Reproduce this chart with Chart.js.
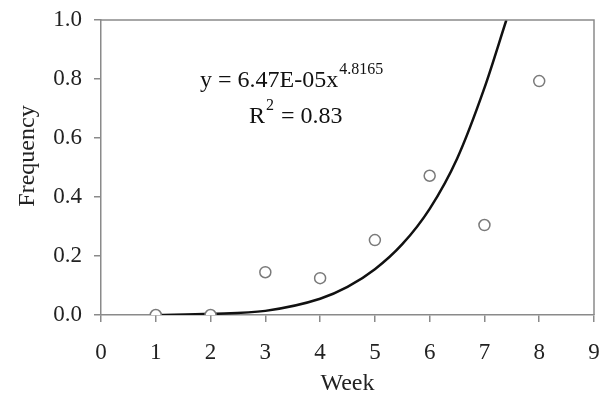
<!DOCTYPE html>
<html lang="en">
<head>
  <meta charset="UTF-8">
  <title>Frequency by week</title>
  <script src="https://cdn.jsdelivr.net/npm/chart.js"></script>
  <style>
    html, body { margin: 0; padding: 0; background: #fff; }
    #wrap { width: 604px; height: 406px; }
  </style>
</head>
<body>
  <div id="wrap"><canvas id="myChart" width="604" height="406"></canvas></div>
  <script>
    // observed frequency per week
    const weeks = [1, 2, 3, 4, 5, 6, 7, 8];
    const frequency = [0.0, 0.0, 0.145, 0.125, 0.254, 0.472, 0.305, 0.793];

    // power trend line
    const trendWeeks = [1, 2, 3, 4, 4.5, 5, 5.5, 6, 6.5, 7, 7.4];
    const trendFreq = [0.0, 0.004, 0.014, 0.055, 0.095, 0.155, 0.24, 0.36, 0.53, 0.77, 1.0];

    const xTicks = [0, 1, 2, 3, 4, 5, 6, 7, 8, 9];
    const yTicks = [0.0, 0.2, 0.4, 0.6, 0.8, 1.0];

    const serif = 'Liberation Serif';
    const axisGray = '#8a8a8a';

    // frame on top/right, y title and equation text
    const framePlugin = {
      id: 'frame',
      afterDraw(chart) {
        const { ctx, chartArea: a } = chart;
        ctx.save();
        ctx.strokeStyle = axisGray;
        ctx.lineWidth = 1.5;
        ctx.beginPath();
        ctx.moveTo(a.left, a.top);
        ctx.lineTo(a.right, a.top);
        ctx.lineTo(a.right, a.bottom);
        ctx.stroke();

        ctx.fillStyle = '#222';
        ctx.font = '24px "' + serif + '"';
        ctx.save();
        ctx.translate(28, 156);
        ctx.rotate(-Math.PI / 2);
        ctx.textAlign = 'center';
        ctx.textBaseline = 'middle';
        ctx.fillText('Frequency', 0, 0);
        ctx.restore();

        ctx.fillStyle = '#111';
        ctx.textBaseline = 'alphabetic';
        ctx.font = '24px "' + serif + '"';
        ctx.fillText('y = 6.47E-05x', 200, 87);
        const w = ctx.measureText('y = 6.47E-05x').width;
        ctx.font = '16px "' + serif + '"';
        ctx.fillText('4.8165', 200 + w + 1, 74);
        ctx.font = '24px "' + serif + '"';
        ctx.fillText('R', 249, 123);
        const rw = ctx.measureText('R').width;
        ctx.font = '16px "' + serif + '"';
        ctx.fillText('2', 249 + rw + 1, 110);
        ctx.font = '24px "' + serif + '"';
        ctx.fillText(' = 0.83', 249 + rw + 10, 123);
        ctx.restore();
      }
    };

    const ctx = document.getElementById('myChart').getContext('2d');
    const myChart = new Chart(ctx, {
      type: 'scatter',
      data: {
        datasets: [
          {
            label: 'Observed',
            data: weeks.map((w, i) => ({ x: w, y: frequency[i] })),
            pointStyle: 'circle',
            pointRadius: 5.5,
            pointBorderWidth: 1.5,
            pointBorderColor: '#7a7a7a',
            pointBackgroundColor: '#fff',
            showLine: false,
            order: 1
          },
          {
            label: 'Power trend',
            data: trendWeeks.map((w, i) => ({ x: w, y: trendFreq[i] })),
            showLine: true,
            borderColor: '#111',
            borderWidth: 2.5,
            pointRadius: 0,
            cubicInterpolationMode: 'monotone',
            order: 2
          }
        ]
      },
      options: {
        responsive: false,
        animation: false,
        layout: { padding: { top: 20, right: 10, left: 0, bottom: 0 } },
        plugins: {
          legend: { display: false },
          tooltip: { enabled: false }
        },
        scales: {
          x: {
            type: 'linear',
            min: 0,
            max: 9,
            afterBuildTicks: axis => { axis.ticks = xTicks.map(v => ({ value: v })); },
            afterFit: axis => {
              axis.height = 91;
              axis.paddingLeft = 0;
              axis.paddingRight = 0;
            },
            border: { color: axisGray, width: 1.5 },
            grid: { drawOnChartArea: false, color: axisGray, tickLength: 7, lineWidth: 1.5 },
            ticks: {
              color: '#222',
              padding: 17,
              font: { family: serif, size: 23 },
              callback: v => String(v)
            },
            title: {
              display: true,
              text: 'Week',
              color: '#222',
              font: { family: serif, size: 24 },
              padding: { top: 4, bottom: 8 }
            }
          },
          y: {
            type: 'linear',
            min: 0,
            max: 1,
            afterBuildTicks: axis => { axis.ticks = yTicks.map(v => ({ value: v })); },
            afterFit: axis => {
              axis.width = 101;
              axis.paddingTop = 0;
              axis.paddingBottom = 0;
            },
            border: { color: axisGray, width: 1.5 },
            grid: { drawOnChartArea: false, color: axisGray, tickLength: 7, lineWidth: 1.5 },
            ticks: {
              color: '#222',
              padding: 12,
              font: { family: serif, size: 23 },
              callback: v => v.toFixed(1)
            },
            title: { display: false }
          }
        }
      },
      plugins: [framePlugin]
    });
  </script>
</body>
</html>
